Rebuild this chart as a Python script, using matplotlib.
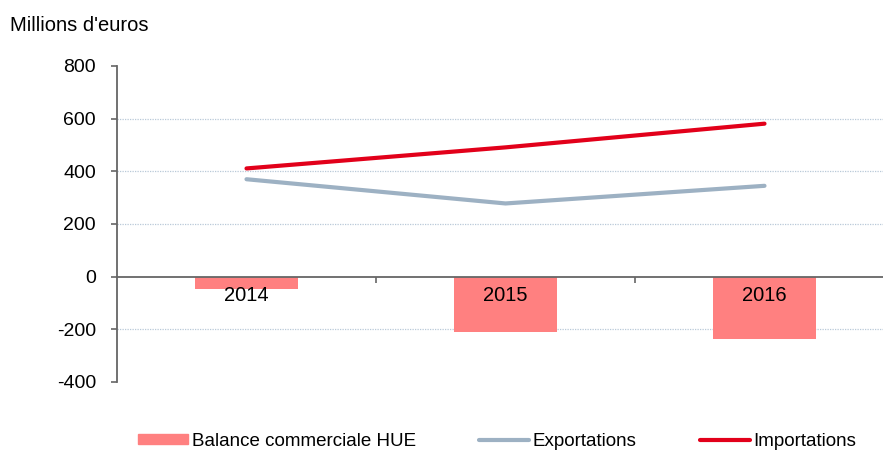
import matplotlib.pyplot as plt
from matplotlib.patches import Patch
from matplotlib.lines import Line2D

plt.rcParams['font.family'] = ['Liberation Sans', 'DejaVu Sans']

# Données (millions d'euros)
years = ['2014', '2015', '2016']
balance = [-45, -212, -238]
exportations = [370, 278, 345]
importations = [411, 491, 581]

yticks = [-400, -200, 0, 200, 400, 600, 800]
grid_values = [-200, 200, 400, 600]

col_balance = '#FF8080'
col_export = '#9DB1C3'
col_import = '#E2001A'

fig = plt.figure(figsize=(8.83, 4.5), dpi=100)
ax = fig.add_axes([117 / 883, 68 / 450, 1 - 117 / 883, (382 - 66) / 450])

x = list(range(len(years)))

for v in grid_values:
    ax.axhline(v, color='#B9C9D8', lw=0.9, ls=(0, (1, 1)), zorder=0)

ax.bar(x, balance, width=0.4, color=col_balance, zorder=1)
ax.plot(x, exportations, color=col_export, lw=3, solid_capstyle='round', zorder=3)
ax.plot(x, importations, color=col_import, lw=3, solid_capstyle='round', zorder=4)

ax.set_xlim(-0.5, 2.5 - 11 / 259)
ax.set_ylim(-400, 800)

ax.spines['top'].set_visible(False)
ax.spines['right'].set_visible(False)
ax.spines['bottom'].set_position(('data', 0))
ax.spines['bottom'].set_color('#666666')
ax.spines['left'].set_color('#666666')
ax.spines['bottom'].set_linewidth(1.3)
ax.spines['left'].set_linewidth(1.3)

ax.set_yticks(yticks)
ax.set_yticklabels([str(v) for v in yticks])
ax.tick_params(axis='y', length=4.3, width=1.2, color='#666666', pad=10.8, labelsize=14)

# ticks aux séparations, libellés au centre des catégories
ax.set_xticks([0.5, 1.5])
ax.set_xticklabels([])
ax.set_xticks(x, minor=True)
ax.set_xticklabels(years, minor=True)
ax.tick_params(axis='x', which='major', length=4.3, width=1.2, color='#666666', direction='out')
ax.tick_params(axis='x', which='minor', length=0, pad=7, labelsize=14.5)

fig.text(10 / 883, 1 - 31 / 450, "Millions d'euros", fontsize=14.5, va='baseline', ha='left')

handles = [
    Patch(color=col_balance),
    Line2D([0], [0], color=col_export, lw=3, solid_capstyle='round'),
    Line2D([0], [0], color=col_import, lw=3, solid_capstyle='round'),
]
labels = ['Balance commerciale HUE', 'Exportations', 'Importations']
fig.legend(handles, labels, loc='center left', bbox_to_anchor=(138 / 883, 1 - 441 / 450),
           ncol=3, frameon=False, fontsize=13.5, handlelength=2.67, handleheight=0.43,
           handletextpad=0.2, columnspacing=3.36, borderpad=0, borderaxespad=0)

fig.savefig('out.png', dpi=100)
